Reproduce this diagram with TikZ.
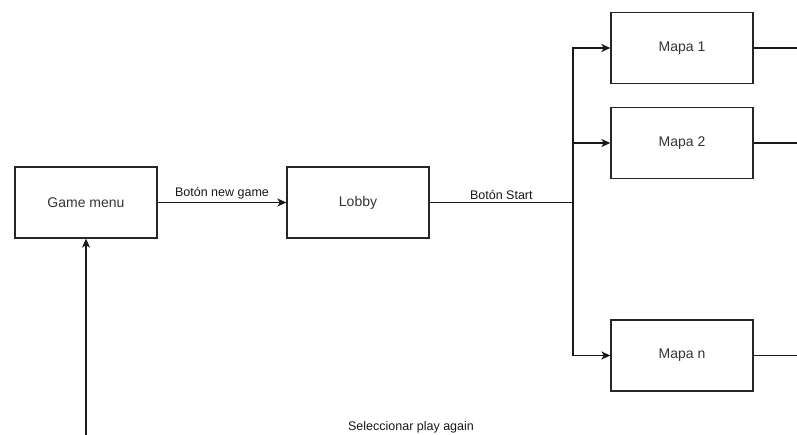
\documentclass[tikz,border=0pt]{standalone}
\usepackage{fontspec}
\setmainfont{Liberation Sans}
\usepackage{tikz}
\usetikzlibrary{arrows.meta}

\tikzset{
  screen/.style={rectangle, draw=black!85, line width=1.3pt, minimum width=142pt, minimum height=71pt,
    text=black!80, font=\fontsize{14}{16}\selectfont},
  flow/.style={line width=1.3pt, draw=black!90, -{Stealth[length=9pt,width=8pt,inset=2.5pt]}},
  plain/.style={line width=1.3pt, draw=black!90},
  lbl/.style={text=black!90, font=\fontsize{12.5}{14}\selectfont, inner sep=2.5pt}
}

\begin{document}
\begin{tikzpicture}[x=1pt,y=-1pt]
\useasboundingbox (0,0) rectangle (797,435);

% pantallas
\node[screen] (menu) at (86,202.5) {Game menu};
\node[screen] (lobby) at (358,202.5) {Lobby};
\node[screen] (mapa1) at (682,48) {Mapa 1};
\node[screen] (mapa2) at (682,143) {Mapa 2};
\node[screen] (mapan) at (682,355.5) {Mapa n};

\coordinate (split) at (573,202.5);
\coordinate (ret) at (86,435);
\coordinate (out1) at (797,48);
\coordinate (out2) at (797,143);
\coordinate (outn) at (797,355.5);

% transiciones
\draw[flow] (menu) -- node[lbl, above] (newgame) {Botón new game} (lobby);
\draw[plain] (lobby) -- node[lbl, above] (start) {Botón Start} (split);
\draw[flow] (split) |- (mapa1);
\draw[flow] (split) |- (mapa2);
\draw[flow] (split) |- (mapan);
\draw[plain] (mapa1) -- (out1);
\draw[plain] (mapa2) -- (out2);
\draw[plain] (mapan) -- (outn);
\draw[flow] (ret) -- (menu);

\node[lbl] (again) at (411,427) {Seleccionar play again};
\end{tikzpicture}
\end{document}
